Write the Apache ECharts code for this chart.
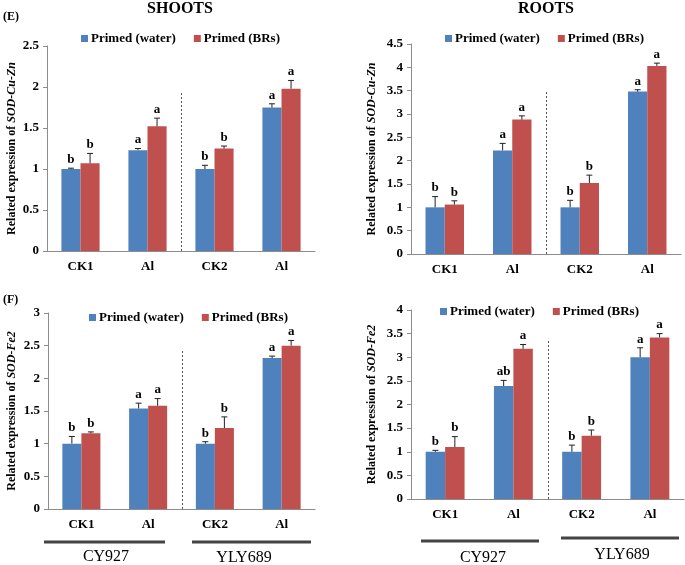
<!DOCTYPE html>
<html><head><meta charset="utf-8">
<script src="https://cdn.jsdelivr.net/npm/echarts@6/dist/echarts.min.js"></script>
<style>html,body{margin:0;padding:0;background:#fff}#c{width:685px;height:565px}</style>
</head><body><div id="c"></div>
<script>
// ---- data ----
const categories = ['CK1', 'Al', 'CK2', 'Al'];
const seriesNames = ['Primed (water)', 'Primed (BRs)'];

// (E) SOD-Cu-Zn, shoots
const shootsCuZnWater = [1.00, 1.23, 1.00, 1.75];
const shootsCuZnWaterErr = [0.01, 0.02, 0.045, 0.045];
const shootsCuZnBRs = [1.07, 1.52, 1.25, 1.98];
const shootsCuZnBRsErr = [0.12, 0.10, 0.03, 0.10];
const shootsCuZnWaterLetters = ['b', 'a', 'b', 'a'];
const shootsCuZnBRsLetters = ['b', 'a', 'b', 'a'];

// (E) SOD-Cu-Zn, roots
const rootsCuZnWater = [1.00, 2.22, 1.00, 3.48];
const rootsCuZnWaterErr = [0.23, 0.15, 0.15, 0.04];
const rootsCuZnBRs = [1.06, 2.88, 1.52, 4.03];
const rootsCuZnBRsErr = [0.08, 0.08, 0.17, 0.06];
const rootsCuZnWaterLetters = ['b', 'a', 'b', 'a'];
const rootsCuZnBRsLetters = ['b', 'a', 'b', 'a'];

// (F) SOD-Fe2, shoots
const shootsFe2Water = [1.00, 1.54, 1.00, 2.31];
const shootsFe2WaterErr = [0.11, 0.08, 0.03, 0.03];
const shootsFe2BRs = [1.16, 1.58, 1.24, 2.50];
const shootsFe2BRsErr = [0.02, 0.11, 0.17, 0.08];
const shootsFe2WaterLetters = ['b', 'a', 'b', 'a'];
const shootsFe2BRsLetters = ['b', 'a', 'b', 'a'];

// (F) SOD-Fe2, roots
const rootsFe2Water = [1.00, 2.39, 1.00, 3.00];
const rootsFe2WaterErr = [0.03, 0.12, 0.14, 0.20];
const rootsFe2BRs = [1.10, 3.18, 1.34, 3.42];
const rootsFe2BRsErr = [0.22, 0.09, 0.12, 0.08];
const rootsFe2WaterLetters = ['b', 'ab', 'b', 'a'];
const rootsFe2BRsLetters = ['b', 'a', 'b', 'a'];

const groupLabels = ['CY927', 'YLY689'];

// ---- layout / styles ----
const FONT = '"Liberation Serif", "Times New Roman", serif';
const BLUE = '#4F81BD', RED = '#C0504D';
const GAP = 0.43;

const panels = [
  { grid: {left: 47, right: 370, top: 46, bottom: 314}, max: 2.5, gene: 'SOD-Cu-Zn', nameGap: 29,
    w: shootsCuZnWater, we: shootsCuZnWaterErr, wl: shootsCuZnWaterLetters,
    b: shootsCuZnBRs, be: shootsCuZnBRsErr, bl: shootsCuZnBRsLetters, divTop: 1.95,
    legend: {left: 76, top: 27} },
  { grid: {left: 411, right: 4, top: 44, bottom: 311}, max: 4.5, gene: 'SOD-Cu-Zn', nameGap: 33,
    w: rootsCuZnWater, we: rootsCuZnWaterErr, wl: rootsCuZnWaterLetters,
    b: rootsCuZnBRs, be: rootsCuZnBRsErr, bl: rootsCuZnBRsLetters, divTop: 3.49,
    legend: {left: 440, top: 27} },
  { grid: {left: 48, right: 370, top: 313, bottom: 56}, max: 3, gene: 'SOD-Fe2', nameGap: 30,
    w: shootsFe2Water, we: shootsFe2WaterErr, wl: shootsFe2WaterLetters,
    b: shootsFe2BRs, be: shootsFe2BRsErr, bl: shootsFe2BRsLetters, divTop: 2.42,
    legend: {left: 84, top: 306} },
  { grid: {left: 411, right: 1, top: 310, bottom: 66}, max: 4, gene: 'SOD-Fe2', nameGap: 33,
    w: rootsFe2Water, we: rootsFe2WaterErr, wl: rootsFe2WaterLetters,
    b: rootsFe2BRs, be: rootsFe2BRsErr, bl: rootsFe2BRsLetters, divTop: 3.39,
    legend: {left: 435, top: 300} }
];

const grids = [], xAxes = [], yAxes = [], series = [], legends = [];

function errRender(side, letters) {
  return function (params, api) {
    const ci = api.value(0), v = api.value(1), e = api.value(2);
    const band = api.size([1, 0])[0];
    const bw = band * (1 - GAP) / 2;
    const x = api.coord([ci, v])[0] + side * bw / 2;
    const y0 = api.coord([ci, v])[1];
    const y1 = api.coord([ci, v + e])[1];
    const st = {stroke: '#222', lineWidth: 1};
    return {
      type: 'group',
      children: [
        {type: 'line', shape: {x1: x, y1: y0, x2: x, y2: y1}, style: st},
        {type: 'line', shape: {x1: x - 3, y1: y1, x2: x + 3, y2: y1}, style: st},
        {type: 'text', style: {text: letters[params.dataIndex], x: x, y: y1 - 2, align: 'center',
          verticalAlign: 'bottom', font: 'bold 13px ' + FONT, fill: '#000'}}
      ]
    };
  };
}

panels.forEach((p, i) => {
  grids.push(Object.assign({containLabel: false}, p.grid));
  xAxes.push({
    type: 'category', gridIndex: i, data: categories,
    axisLine: {lineStyle: {color: '#8c8c8c'}},
    axisTick: {length: 4, lineStyle: {color: '#8c8c8c'}},
    axisLabel: {color: '#000', fontFamily: FONT, fontWeight: 'bold', fontSize: 13, margin: 9}
  });
  yAxes.push({
    type: 'value', gridIndex: i, min: 0, max: p.max, interval: 0.5,
    splitLine: {show: false},
    axisLine: {show: true, lineStyle: {color: '#8c8c8c'}},
    axisTick: {show: true, length: 4, lineStyle: {color: '#8c8c8c'}},
    axisLabel: {color: '#000', fontFamily: FONT, fontWeight: 'bold', fontSize: 13, margin: 8},
    name: 'Related expression of {i|' + p.gene + '}',
    nameLocation: 'middle', nameGap: p.nameGap, nameRotate: 90,
    nameTextStyle: {color: '#000', fontFamily: FONT, fontWeight: 'bold', fontSize: 12,
      rich: {i: {fontStyle: 'italic', fontWeight: 'bold', fontFamily: FONT, fontSize: 12, color: '#000'}}}
  });
  series.push({
    type: 'bar', name: seriesNames[0], xAxisIndex: i, yAxisIndex: i, data: p.w,
    itemStyle: {color: BLUE}, barGap: '0%', barCategoryGap: (GAP * 100) + '%'
  });
  series.push({
    type: 'bar', name: seriesNames[1], xAxisIndex: i, yAxisIndex: i, data: p.b,
    itemStyle: {color: RED}, barGap: '0%', barCategoryGap: (GAP * 100) + '%'
  });
  series.push({
    type: 'custom', xAxisIndex: i, yAxisIndex: i, z: 5, silent: true,
    data: p.w.map((v, k) => [k, v, p.we[k]]), renderItem: errRender(-1, p.wl)
  });
  series.push({
    type: 'custom', xAxisIndex: i, yAxisIndex: i, z: 5, silent: true,
    data: p.b.map((v, k) => [k, v, p.be[k]]), renderItem: errRender(1, p.bl)
  });
  series.push({
    type: 'custom', xAxisIndex: i, yAxisIndex: i, z: 4, silent: true,
    data: [[1, p.divTop]],
    renderItem: function (params, api) {
      const band = api.size([1, 0])[0];
      const x = Math.round(api.coord([api.value(0), 0])[0] + band / 2) + 0.5;
      const yb = api.coord([api.value(0), 0])[1];
      const yt = api.coord([api.value(0), api.value(1)])[1];
      return {type: 'line', shape: {x1: x, y1: yb, x2: x, y2: yt},
        style: {stroke: '#555', lineWidth: 1, lineDash: [2, 2]}};
    }
  });
  legends.push({
    left: p.legend.left, top: p.legend.top, data: seriesNames, icon: 'rect',
    itemWidth: 7, itemHeight: 7, itemGap: 18, selectedMode: false,
    textStyle: {fontFamily: FONT, fontWeight: 'bold', fontSize: 13, color: '#000', padding: [0, 0, 0, -2]}
  });
});

const titleStyle = {fontFamily: FONT, fontWeight: 'bold', fontSize: 16, color: '#000'};
const option = {
  animation: false,
  title: [
    {text: 'SHOOTS', left: 180, top: 1, textAlign: 'center', textStyle: titleStyle, padding: 0},
    {text: 'ROOTS', left: 546, top: 1, textAlign: 'center', textStyle: titleStyle, padding: 0},
    {text: '(E)', left: 3, top: 11, textStyle: Object.assign({}, titleStyle, {fontSize: 12}), padding: 0},
    {text: '(F)', left: 3, top: 294, textStyle: Object.assign({}, titleStyle, {fontSize: 12}), padding: 0}
  ],
  legend: legends,
  grid: grids,
  xAxis: xAxes,
  yAxis: yAxes,
  series: series,
  graphic: [
    {type: 'line', shape: {x1: 44, y1: 542, x2: 165, y2: 542}, style: {stroke: '#444', lineWidth: 3}},
    {type: 'line', shape: {x1: 192, y1: 542, x2: 311, y2: 542}, style: {stroke: '#444', lineWidth: 3}},
    {type: 'line', shape: {x1: 421, y1: 541, x2: 539, y2: 541}, style: {stroke: '#444', lineWidth: 3}},
    {type: 'line', shape: {x1: 561, y1: 538, x2: 679, y2: 538}, style: {stroke: '#444', lineWidth: 3}},
    {type: 'text', x: 106, y: 557, style: {text: groupLabels[0], align: 'center', verticalAlign: 'middle', font: '16px ' + FONT, fill: '#000'}},
    {type: 'text', x: 244, y: 558, style: {text: groupLabels[1], align: 'center', verticalAlign: 'middle', font: '16px ' + FONT, fill: '#000'}},
    {type: 'text', x: 483, y: 558, style: {text: groupLabels[0], align: 'center', verticalAlign: 'middle', font: '16px ' + FONT, fill: '#000'}},
    {type: 'text', x: 622, y: 555, style: {text: groupLabels[1], align: 'center', verticalAlign: 'middle', font: '16px ' + FONT, fill: '#000'}}
  ]
};
const chart = echarts.init(document.getElementById('c'), null, {renderer: 'canvas'});
chart.setOption(option);
</script></body></html>
